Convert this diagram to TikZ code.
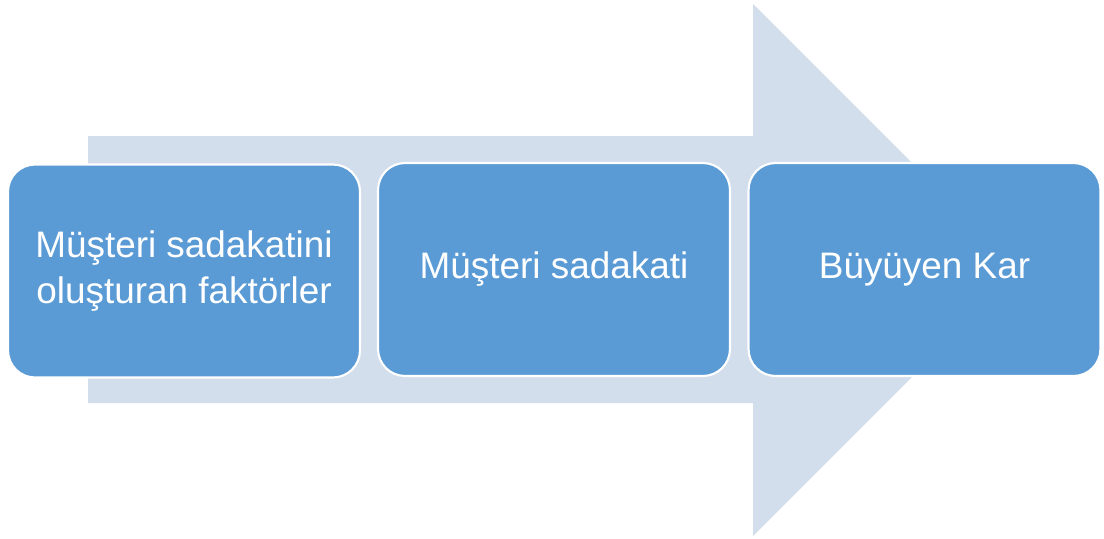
\documentclass[tikz,border=0pt]{standalone}
\usepackage{fontspec}
\setmainfont{Liberation Sans}
\usepackage{tikz}
\usetikzlibrary{positioning}
\definecolor{boxblue}{HTML}{5B9BD5}
\definecolor{arrowblue}{HTML}{D3DEED}
\tikzset{
  stage/.style={rectangle,rounded corners=0.54cm,fill=boxblue,draw=white,
    line width=1.2pt,minimum width=7.04cm,minimum height=4.26cm,
    text=white,align=center,inner sep=2pt,
    font=\fontsize{21}{26}\selectfont},
  bigarrow/.style={fill=arrowblue}
}

\begin{document}
\begin{tikzpicture}[x=0.02cm,y=-0.02cm]
  \useasboundingbox (0,0) rectangle (1104,538);
  % background arrow
  \fill[bigarrow] (88,136) -- (753,136) -- (753,4) -- (1019,270)
    -- (753,536) -- (753,403) -- (88,403) -- cycle;
  % stages
  \node[stage] (factors) at (184,271) {Müşteri sadakatini\\oluşturan faktörler};
  \node[stage] (loyalty) at (554,269.5) {Müşteri sadakati};
  \node[stage] (profit) at (924.5,269.5) {Büyüyen Kar};
\end{tikzpicture}
\end{document}
